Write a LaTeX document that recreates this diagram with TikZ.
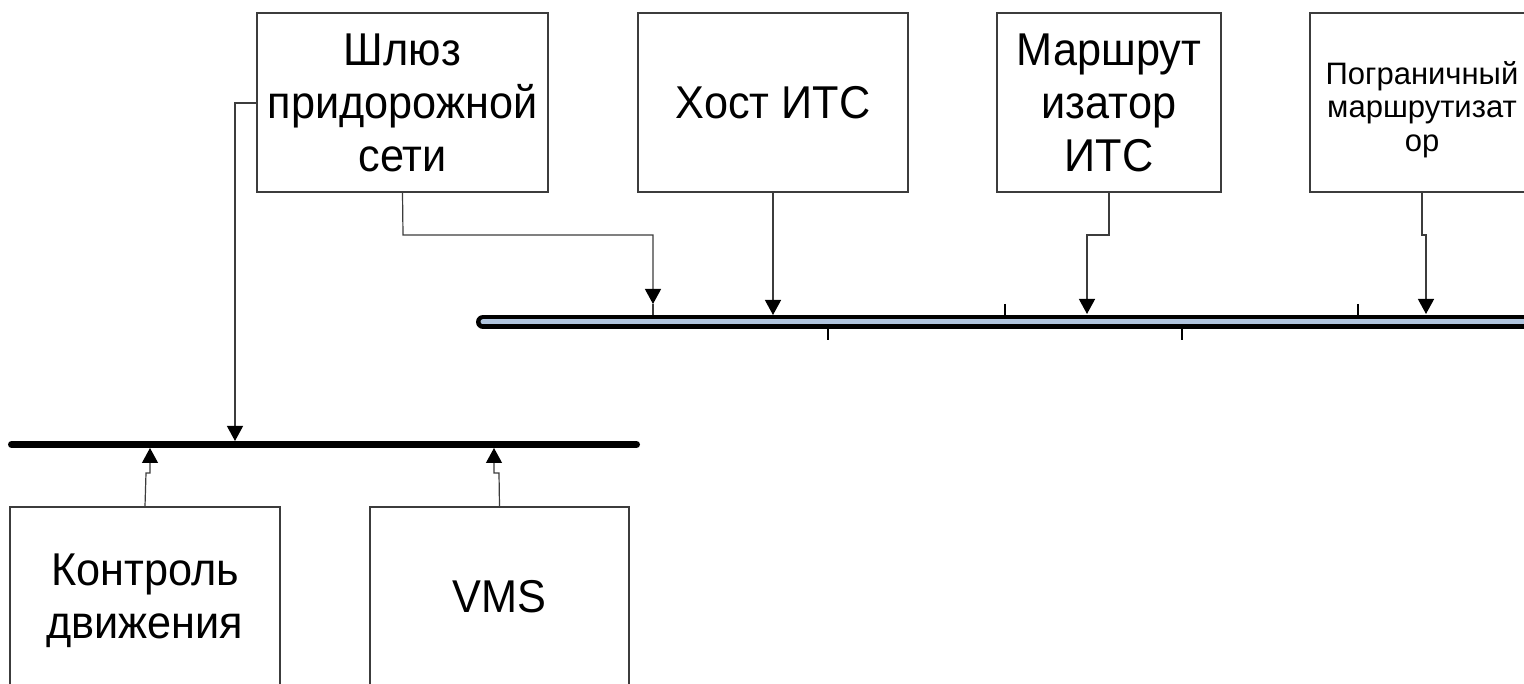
\documentclass[tikz,border=0pt]{standalone}
\usepackage{fontspec}
\setmainfont{Liberation Sans}[FakeStretch=0.94]
\newfontfamily\smallfam{Liberation Sans}
\usetikzlibrary{arrows.meta}
\definecolor{busblue}{RGB}{176,196,222}
\definecolor{linegray}{RGB}{60,60,60}
\tikzset{
  box/.style={draw=linegray, line width=1.2pt, fill=white, align=center, inner sep=0pt},
  bigtxt/.style={font=\fontsize{46}{53}\selectfont},
  smalltxt/.style={font=\smallfam\fontsize{31}{33.5}\selectfont},
  conn/.style={draw=linegray, line width=1.2pt},
  tip/.style={-{Triangle[width=16pt,length=15pt,black]}},
  tickline/.style={draw=black, line width=1.3pt},
}
\begin{document}
\begin{tikzpicture}[x=1pt,y=-1pt]
\useasboundingbox (0,0) rectangle (1524,684);
\clip (0,0) rectangle (1524,684);
\fill[white] (0,0) rectangle (1524,684);
% top boxes
\node[box, bigtxt, minimum width=291pt, minimum height=179pt] (gw) at (402.5,102.5) {Шлюз\\придорожной\\сети};
\node[box, bigtxt, minimum width=270pt, minimum height=179pt] (host) at (773,102.5) {Хост ИТС};
\node[box, bigtxt, minimum width=224pt, minimum height=179pt] (rt) at (1109,102.5) {Маршрут\\изатор\\ИТС};
\node[box, minimum width=224pt, minimum height=179pt] (br) at (1422,102.5) {};
\node[smalltxt, align=center, inner sep=0pt] (brtext) at ([yshift=-7pt]br.center) {Пограничный\\маршрутизат\\ор};
% bottom boxes
\node[box, minimum width=270pt, minimum height=179pt] (tc) at (145,596.5) {};
\node[bigtxt, align=center, inner sep=0pt] (tctext) at ([yshift=-4pt]tc.center) {Контроль\\движения};
\node[box, bigtxt, minimum width=259pt, minimum height=179pt] (vms) at (499.5,596.5) {VMS};
% top bus
\coordinate (busAL) at (483,322);
\coordinate (busAR) at (1540,322);
\draw[line width=14pt, line cap=round] (busAL) -- (busAR);
\draw[busblue, line width=5pt, line cap=round] (busAL) -- (busAR);
% bottom bus
\coordinate (busBL) at (11.5,444.5);
\coordinate (busBR) at (636.5,444.5);
\draw[line width=7pt, line cap=round] (busBL) -- (busBR);
% ticks on top bus
\draw[tickline] (1005,304) -- (1005,315);
\draw[tickline] (1358,304) -- (1358,315);
\draw[tickline] (828,329) -- (828,340);
\draw[tickline] (1182,329) -- (1182,340);
% connectors
\coordinate (gwA) at (653,304);
\coordinate (gwAbus) at (653,315);
\draw[conn, tip] (gw.south) -- (403,235) -- (653,235) -- (gwA);
\draw[conn] (gwA) -- (gwAbus);
\coordinate (gwB) at (235,441);
\draw[conn, tip] (gw.west |- 0,103) -- (235,103) -- (gwB);
\coordinate (hostB) at (773,315);
\draw[conn, tip] (host.south) -- (hostB);
\coordinate (rtB) at (1087,314);
\draw[conn, tip] (rt.south) -- (1109,235) -- (1087,235) -- (rtB);
\coordinate (brB) at (1426,314);
\draw[conn, tip] (br.south) -- (1422,235) -- (1426,235) -- (brB);
\coordinate (tcB) at (150,448);
\draw[conn, tip] (tc.north) -- (146,473) -- (150,473) -- (tcB);
\coordinate (vmsB) at (494,448);
\draw[conn, tip] (vms.north) -- (499,473) -- (494,473) -- (vmsB);
\end{tikzpicture}
\end{document}
